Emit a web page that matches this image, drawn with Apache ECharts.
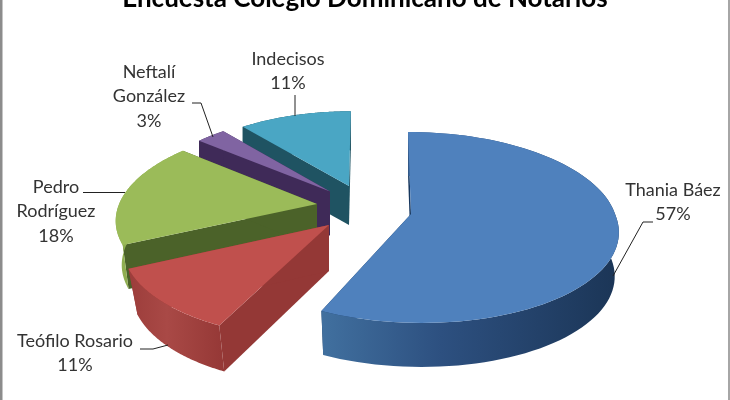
<!DOCTYPE html>
<html>
<head>
<meta charset="utf-8">
<style>html,body{margin:0;padding:0;background:#fff}#c{width:730px;height:400px}</style>
<script src="https://cdn.jsdelivr.net/npm/echarts@6/dist/echarts.min.js"></script>
</head>
<body>
<div id="c"></div>
<script>
const titleText = 'Encuesta Colegio Dominicano de Notarios';
const names = ['Thania Báez', 'Teófilo Rosario', 'Pedro Rodríguez', 'Neftalí González', 'Indecisos'];
const labelLines = [['Thania Báez'], ['Teófilo Rosario'], ['Pedro', 'Rodríguez'], ['Neftalí', 'González'], ['Indecisos']];
const values = [57, 11, 18, 3, 11];
const topColors = ['#4f81bd', '#c0504d', '#9bbb59', '#8064a2', '#4aa6c4'];
const cutColors = ['#17375e', '#943836', '#4b6229', '#3f2a58', '#1f5362'];
const wallColors = [['#41709f', '#2d5080', '#1b3556'], ['#9c3d3b', '#a94946', '#953836'], ['#8fae50', '#8fae50', '#8fae50'], ['#3f2a58', '#3f2a58', '#3f2a58'], ['#1f5362', '#1f5362', '#1f5362']];
const apexes = [[411, 214], [329, 225], [317, 204], [330, 191.5], [349, 186]];
const scales = [1, 1.03, 0.97, 0.92, 0.9];
const xScales = [1.02, 0.985, 1.02, 1, 1.03];
const backSkews = [3, 0, -10, 0, -2];
const frontSkews = [11, -11, -10, 0, 0];
const depths = [44, 46, 44, 44, 39];
const depthTapers = [0.98, 0.955, 0.97, 1, 1];
const labelPos = [[673, 190], [75, 341], [56, 187], [149, 72], [288, 59]];
const leaders = [
  [[653, 222], [643, 222], [613, 276]],
  [[140, 349], [153, 349], [168, 345]],
  [[83, 192.5], [125, 192.5]],
  [[192, 103], [201, 103], [213, 137]],
  [[295, 95], [295, 116]]
];
const drawOrder = [4, 3, 2, 1, 0];

const total = values.reduce((a, b) => a + b, 0);
const focalX = 200, focalY = 93.6, persp = 0.141;

function project(i, angle) {
  const u = Math.sin(angle) * scales[i], v = -Math.cos(angle) * scales[i];
  const w = 1 - persp * v;
  const skew = v < 0 ? backSkews[i] : frontSkews[i];
  return [apexes[i][0] + xScales[i] * focalX * u / w + skew * v, apexes[i][1] + focalY * v / w];
}
function renderItem(params, api) {
  const i = params.dataIndex;
  const before = values.slice(0, i).reduce((a, b) => a + b, 0);
  const a0 = before / total * 2 * Math.PI;
  const a1 = (before + api.value(0)) / total * 2 * Math.PI;
  const steps = 90, arc = [];
  for (let s = 0; s <= steps; s++) arc.push(project(i, a0 + (a1 - a0) * s / steps));
  const d = depths[i], apex = apexes[i], taper = depthTapers[i];
  const down = p => [apex[0] + (p[0] - apex[0]) * taper, p[1] + d];
  const z = drawOrder.indexOf(i) * 10 + 1;
  const first = arc[0], last = arc[steps];
  const children = [
    { type: 'polygon', z2: z, shape: { points: [apex, first, down(first), down(apex)] }, style: { fill: cutColors[i] } },
    { type: 'polygon', z2: z, shape: { points: [apex, last, down(last), down(apex)] }, style: { fill: cutColors[i] } },
    { type: 'polygon', z2: z + 1, shape: { points: arc.concat(arc.slice().reverse().map(down)) },
      style: { fill: new echarts.graphic.LinearGradient(0, 0, 1, 0, [
        { offset: 0, color: wallColors[i][0] }, { offset: 0.4, color: wallColors[i][1] }, { offset: 1, color: wallColors[i][2] }]) } },
    { type: 'polygon', z2: z + 2, shape: { points: [apex].concat(arc) }, style: { fill: topColors[i] } },
    { type: 'polyline', z2: 100, shape: { points: leaders[i] }, style: { stroke: '#222', lineWidth: 1, fill: null } }
  ];
  const lines = labelLines[i].concat([api.value(0) + '%']);
  lines.forEach((t, k) => children.push({
    type: 'text', z2: 101,
    style: { text: t, x: labelPos[i][0], y: labelPos[i][1] + k * 24.6, align: 'center', verticalAlign: 'middle',
      fill: '#333', font: '18px Lato' }
  }));
  return { type: 'group', children };
}

const chart = echarts.init(document.getElementById('c'));
chart.setOption({
  animation: false,
  backgroundColor: '#fff',
  title: { text: titleText, left: 'center', top: -19, textStyle: { fontFamily: 'Lato', fontWeight: 'bold', fontSize: 26, color: '#000' } },
  graphic: [
    { type: 'rect', left: 0, top: 0, shape: { width: 2.5, height: 400 }, style: { fill: '#8c8c8c' } },
    { type: 'rect', right: 0, top: 0, shape: { width: 2, height: 400 }, style: { fill: '#a6a6a6' } }
  ],
  series: [{
    type: 'custom',
    coordinateSystem: 'none',
    renderItem,
    data: names.map((n, i) => ({ name: n, value: values[i] }))
  }]
});
</script>
</body>
</html>
